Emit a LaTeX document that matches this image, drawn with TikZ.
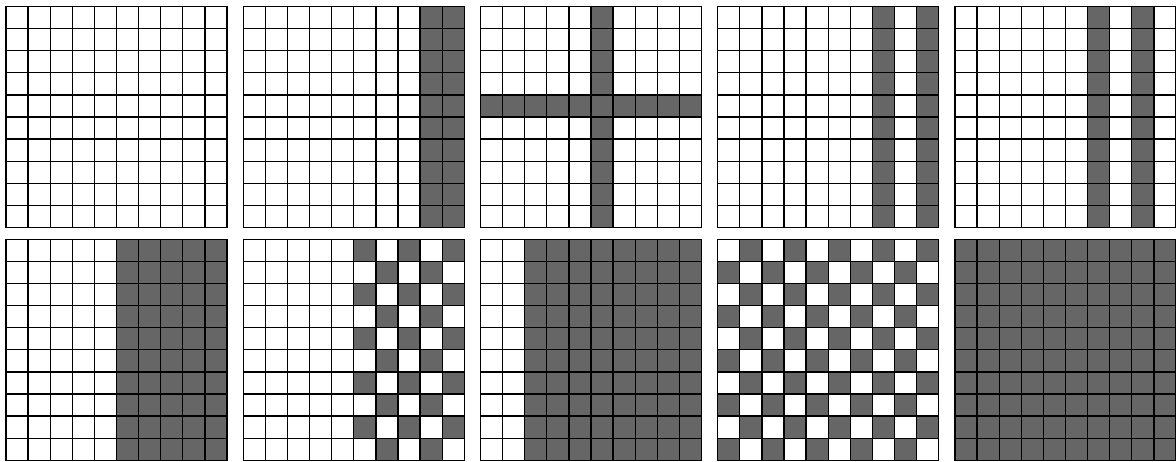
\documentclass[tikz,border=0pt]{standalone}
\usepackage{tikz}
\definecolor{cellgray}{RGB}{102,102,102}
\tikzset{
  cellfill/.style={fill=cellgray},
  gridline/.style={line width=1.3pt, draw=black, line cap=rect},
  panel/.style={x=22.1pt, y=-22.1pt}
}
\newcommand{\gridlines}{%
  \foreach \i in {0,...,10} {\draw[gridline] (\i,0) -- (\i,10); \draw[gridline] (0,\i) -- (10,\i);}%
}
\newcommand{\checkcells}[1]{%
  \foreach \c in {#1,...,9} {\foreach \r in {0,...,9} {%
    \pgfmathtruncatemacro{\chkpar}{mod(\c+\r,2)}%
    \ifnum\chkpar=1 \fill[cellfill] (\c,\r) rectangle ++(1,1);\fi}}%
}
\begin{document}
\begin{tikzpicture}[x=1pt,y=-1pt]
\useasboundingbox[fill=white] (0,0) rectangle (1176,462);
% ---- row 1 ----
\begin{scope}[shift={(6,6.5)}, panel]
  \gridlines
\end{scope}
\begin{scope}[shift={(243.3,6.5)}, panel]
  \fill[cellfill] (8,0) rectangle (10,10);
  \gridlines
\end{scope}
\begin{scope}[shift={(480.5,6.5)}, panel]
  \fill[cellfill] (5,0) rectangle (6,10);
  \fill[cellfill] (0,4) rectangle (10,5);
  \gridlines
\end{scope}
\begin{scope}[shift={(717.7,6.5)}, panel]
  \fill[cellfill] (7,0) rectangle (8,10);
  \fill[cellfill] (9,0) rectangle (10,10);
  \gridlines
\end{scope}
\begin{scope}[shift={(955,6.5)}, panel]
  \fill[cellfill] (6,0) rectangle (7,10);
  \fill[cellfill] (8,0) rectangle (9,10);
  \gridlines
\end{scope}
% ---- row 2 ----
\begin{scope}[shift={(6,239.3)}, panel]
  \fill[cellfill] (5,0) rectangle (10,10);
  \gridlines
\end{scope}
\begin{scope}[shift={(243.3,239.3)}, panel]
  \checkcells{5}
  \gridlines
\end{scope}
\begin{scope}[shift={(480.5,239.3)}, panel]
  \fill[cellfill] (2,0) rectangle (10,10);
  \gridlines
\end{scope}
\begin{scope}[shift={(717.7,239.3)}, panel]
  \checkcells{0}
  \gridlines
\end{scope}
\begin{scope}[shift={(955,239.3)}, panel]
  \fill[cellfill] (0,0) rectangle (10,10);
  \gridlines
\end{scope}
\end{tikzpicture}
\end{document}
